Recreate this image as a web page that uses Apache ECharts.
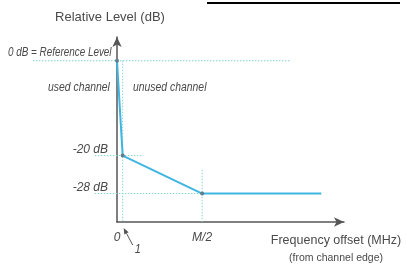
<!DOCTYPE html>
<html>
<head>
<meta charset="utf-8">
<script src="https://cdn.jsdelivr.net/npm/echarts@6/dist/echarts.min.js"></script>
<style>
  html, body { margin: 0; padding: 0; background: #fff; }
  #chart { width: 406px; height: 266px; }
</style>
</head>
<body>
<div id="chart"></div>
<script>
// mask shape: offset (arbitrary units, M/2 = 15) vs relative level in dB
const maskX = [0, 1, 15, 36];
const maskDb = [0, -20, -28, -28];
const tickX = [0, 15];
const tickXNames = ['0', 'M/2'];
const tickDb = [-20, -28];
// dotted guide lines, [x1, y1, x2, y2]
const guides = [
  [-14.8, 0, 30.5, 0],
  [-3.9, -20, 4.6, -20],
  [-3.9, -28, 15, -28],
  [1, 0, 1, -34],
  [15, -23, 15, -34]
];

const W = 406;
const gridLeft = 117, gridRight = 62, gridTop = 37, gridBottom = 44;
const xMax = 40, yMin = -34, yMax = 5;
const pxPerX = (W - gridLeft - gridRight) / xMax;
const xMin2 = -gridLeft / pxPerX;

const font = "'Liberation Sans', Arial, sans-serif";
const textGrey = '#4a4a4a';

const chart = echarts.init(document.getElementById('chart'));

const guideSeries = guides.map(g => ({
  type: 'line',
  xAxisIndex: 1,
  yAxisIndex: 1,
  data: [[g[0], g[1]], [g[2], g[3]]],
  symbol: 'none',
  silent: true,
  clip: false,
  z: 1,
  lineStyle: { color: '#86d3cf', width: 1, type: [1.5, 1.5] }
}));

chart.setOption({
  animation: false,
  textStyle: { fontFamily: font },
  grid: [
    { left: gridLeft, right: gridRight, top: gridTop, bottom: gridBottom, containLabel: false, outerBoundsMode: 'none' },
    { left: 0, right: gridRight, top: gridTop, bottom: gridBottom, containLabel: false, outerBoundsMode: 'none' }
  ],
  xAxis: [
    {
      type: 'value', gridIndex: 0, min: 0, max: xMax,
      splitLine: { show: false },
      axisLine: { show: true, onZero: false, symbol: ['none', 'arrow'], symbolSize: [7, 10], lineStyle: { color: '#555', width: 1.5 } },
      axisTick: { show: false },
      axisLabel: {
        customValues: tickX,
        formatter: v => tickXNames[tickX.indexOf(v)],
        color: textGrey, fontSize: 12, fontStyle: 'italic', margin: 10
      },
      name: '{a|Frequency offset (MHz)}\n{b|(from channel edge)}',
      nameLocation: 'end',
      nameGap: -8,
      nameTextStyle: {
        verticalAlign: 'top',
        align: 'center',
        padding: [10, 0, 0, 0],
        rich: {
          a: { fontSize: 12.5, color: textGrey, fontFamily: font, lineHeight: 18 },
          b: { fontSize: 10.5, color: textGrey, fontFamily: font, lineHeight: 16 }
        }
      }
    },
    { type: 'value', gridIndex: 1, min: xMin2, max: xMax, show: false }
  ],
  yAxis: [
    {
      type: 'value', gridIndex: 0, min: yMin, max: yMax,
      splitLine: { show: false },
      axisLine: { show: true, onZero: false, symbol: ['none', 'arrow'], symbolSize: [7, 10], lineStyle: { color: '#555', width: 1.5 } },
      axisTick: { show: false },
      axisLabel: {
        customValues: tickDb,
        formatter: v => v + ' dB',
        color: textGrey, fontSize: 12, fontStyle: 'italic', margin: 9,
        verticalAlign: 'bottom'
      },
      name: 'Relative Level (dB)',
      nameLocation: 'end',
      nameGap: 13,
      nameTextStyle: { color: textGrey, fontSize: 13, padding: [0, 14, 0, 0] }
    },
    { type: 'value', gridIndex: 1, min: yMin, max: yMax, show: false }
  ],
  series: guideSeries.concat([
    {
      type: 'line',
      xAxisIndex: 0,
      yAxisIndex: 0,
      data: maskX.map((x, i) => [x, maskDb[i]]),
      clip: false,
      z: 3,
      symbol: 'circle',
      symbolSize: (v, p) => (p.dataIndex < 3 ? 4 : 0),
      itemStyle: { color: '#5d7f8e' },
      lineStyle: { color: '#3fb6e2', width: 2 }
    }
  ])
});

// annotations anchored to the axes
const p0 = chart.convertToPixel({ gridIndex: 0 }, [0, 0]);
const p1 = chart.convertToPixel({ gridIndex: 0 }, [1, yMin]);
const note = (text, x, y, size, sx) => ({
  type: 'text', x: x, y: y, scaleX: sx,
  style: { text: text, fill: textGrey, font: 'italic ' + size + 'px ' + font }
});
// little arrow pointing at the "1" offset
const tip = [p1[0] + 1, p1[1] + 6];
const tail = [p1[0] + 10, p1[1] + 23];
const len = Math.hypot(tail[0] - tip[0], tail[1] - tip[1]);
const ux = (tail[0] - tip[0]) / len, uy = (tail[1] - tip[1]) / len;
const base = [tip[0] + ux * 6, tip[1] + uy * 6];
chart.setOption({
  graphic: [
    note('0 dB = Reference Level', 8, p0[1] - 15, 13, 0.76),
    note('used channel', 48, p0[1] + 20, 13, 0.8),
    note('unused channel', 133, p0[1] + 20, 13, 0.8),
    {
      type: 'line',
      shape: { x1: base[0], y1: base[1], x2: tail[0], y2: tail[1] },
      style: { stroke: '#555', lineWidth: 1 }
    },
    {
      type: 'polygon',
      shape: { points: [tip, [base[0] + uy * 2.5, base[1] - ux * 2.5], [base[0] - uy * 2.5, base[1] + ux * 2.5]] },
      style: { fill: '#555' }
    },
    note('1', p1[0] + 12, p1[1] + 21, 13, 0.85),
    {
      type: 'rect',
      shape: { x: 207, y: 2, width: 193, height: 2 },
      style: { fill: '#000' }
    }
  ]
});
</script>
</body>
</html>
